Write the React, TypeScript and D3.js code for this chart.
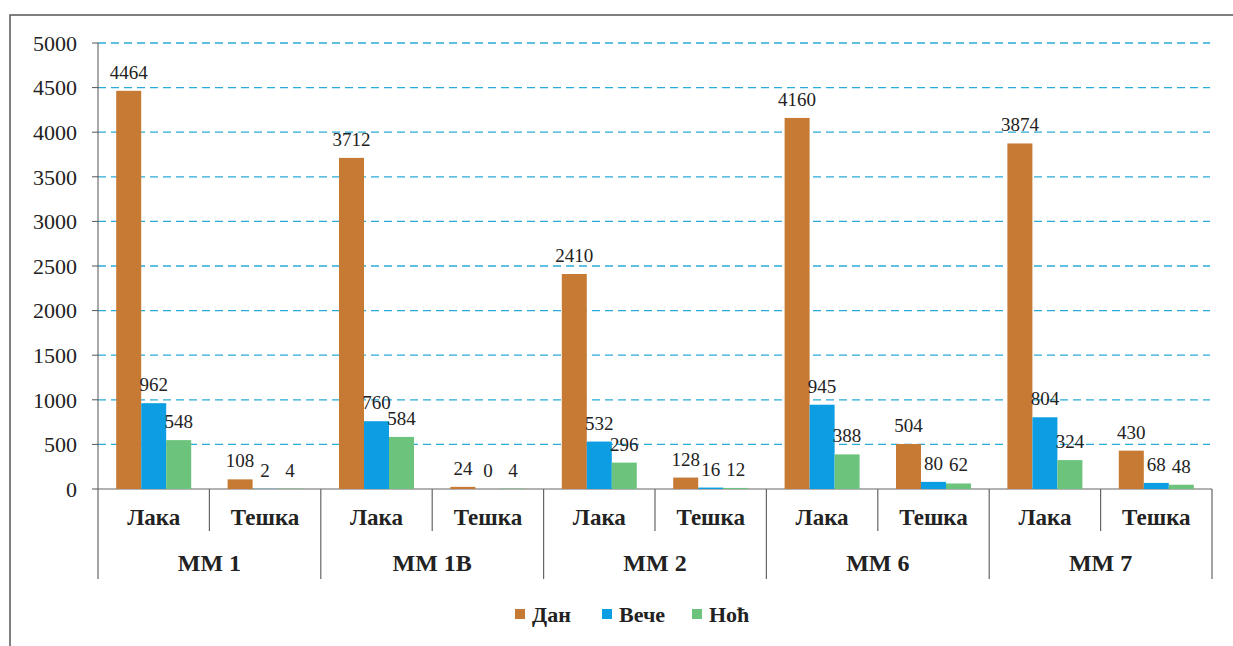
import React from "react";
import * as d3 from "d3";

const groups = ["ММ 1", "ММ 1В", "ММ 2", "ММ 6", "ММ 7"];
const subcats = ["Лака", "Тешка"];
const seriesNames = ["Дан", "Вече", "Ноћ"];
const seriesColors = ["#C67A33", "#0C9DE2", "#6CC47C"];
// values per category in order: group x subcat
const dan = [4464, 108, 3712, 24, 2410, 128, 4160, 504, 3874, 430];
const veche = [962, 2, 760, 0, 532, 16, 945, 80, 804, 68];
const noc = [548, 4, 584, 4, 296, 12, 388, 62, 324, 48];
const yTicks = [0, 500, 1000, 1500, 2000, 2500, 3000, 3500, 4000, 4500, 5000];

export default function App() {
  const W = 1233, H = 646;
  const x0 = 98, x1 = 1212, yTop = 43, yBase = 489;
  const series = [dan, veche, noc];
  const cats = groups.flatMap((g) => subcats.map((s) => `${g}|${s}`));
  const y = d3.scaleLinear().domain([0, 5000]).range([yBase, yTop]);
  const xc = d3.scaleBand().domain(cats).range([x0, x1]).paddingInner(0).paddingOuter(0);
  const bw = 25;
  const xg = d3.scaleBand().domain(groups).range([x0, x1]);
  const serif = "Liberation Serif, Tinos, Times New Roman, DejaVu Serif, serif";
  const st = { fontFamily: serif };

  return (
    <svg width={W} height={H} style={{ position: "absolute", left: 0, top: 0, background: "#fff", fontFamily: serif }}>
      <rect x={10} y={15} width={1240} height={660} fill="none" stroke="#555" strokeWidth={1.5} />
      {yTicks.map((t) => (
        <g key={t}>
          {t > 0 && (
            <line x1={x0} x2={1210} y1={y(t)} y2={y(t)} stroke="#2AAAD8" strokeWidth={1.3} strokeDasharray="8 5" />
          )}
          <line x1={x0 - 6} x2={x0} y1={y(t)} y2={y(t)} stroke="#555" strokeWidth={1} />
          <text x={77} y={y(t)} dy="0.35em" textAnchor="end" style={st} fontSize={22} fill="#222">
            {t}
          </text>
        </g>
      ))}
      <line x1={x0} x2={x0} y1={yTop} y2={yBase} stroke="#555" strokeWidth={1} />
      <line x1={x0} x2={x1} y1={yBase} y2={yBase} stroke="#666" strokeWidth={1.2} />
      {cats.map((c, i) => {
        const cx = (xc(c) as number) + xc.bandwidth() / 2;
        const start = cx - (bw * 3) / 2;
        return (
          <g key={c}>
            {series.map((s, k) => {
              const bx = start + k * bw;
              const v = s[i];
              return (
                <g key={k}>
                  <rect x={bx} y={y(v)} width={bw} height={yBase - y(v)} fill={seriesColors[k]} />
                  <text x={bx + bw / 2} y={y(v) - 12} textAnchor="middle" style={st} fontSize={19} fill="#222">
                    {v}
                  </text>
                </g>
              );
            })}
            <text x={cx} y={517} dy="0.35em" textAnchor="middle" style={st} fontWeight="bold" fontSize={23} fill="#222">
              {c.split("|")[1]}
            </text>
          </g>
        );
      })}
      {cats.map((c, i) =>
        i % 2 === 1 ? (
          <line key={"d" + c} x1={xc(c) as number} x2={xc(c) as number} y1={yBase} y2={531} stroke="#666" strokeWidth={1.2} />
        ) : null
      )}
      {groups.map((g) => (
        <g key={g}>
          <line x1={xg(g) as number} x2={xg(g) as number} y1={yBase} y2={579} stroke="#666" strokeWidth={1.2} />
          <text x={(xg(g) as number) + xg.bandwidth() / 2} y={563} dy="0.35em" textAnchor="middle" style={st} fontWeight="bold" fontSize={24} fill="#222">
            {g}
          </text>
        </g>
      ))}
      <line x1={x1} x2={x1} y1={yBase} y2={579} stroke="#666" strokeWidth={1.2} />
      {seriesNames.map((n, k) => {
        const lx = [515, 602, 692][k];
        return (
          <g key={n}>
            <rect x={lx} y={609} width={10} height={10} fill={seriesColors[k]} />
            <text x={lx + 17} y={614} dy="0.35em" style={st} fontWeight="bold" fontSize={22} fill="#222">
              {n}
            </text>
          </g>
        );
      })}
    </svg>
  );
}
